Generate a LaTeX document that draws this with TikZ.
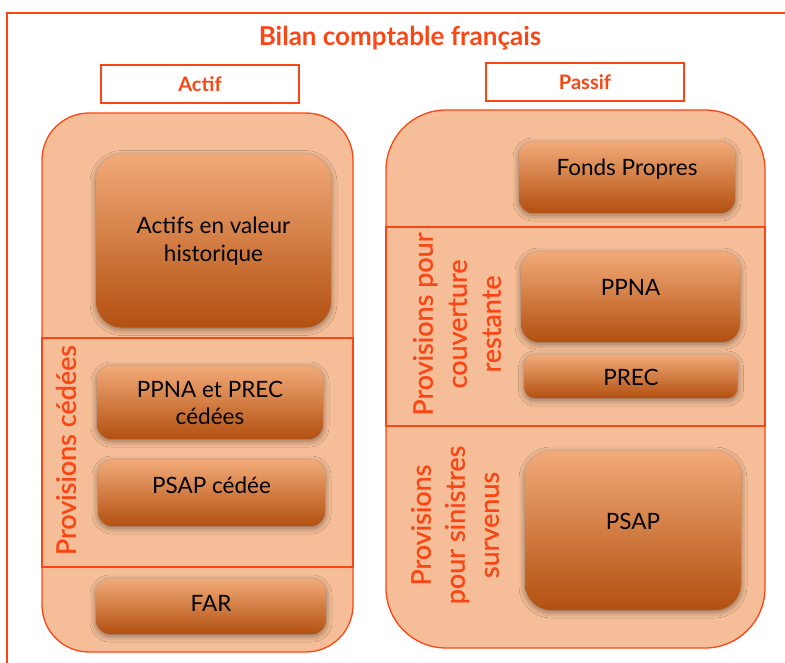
\documentclass[tikz,border=0pt]{standalone}
\usepackage{fontspec}
\setmainfont{Lato}
\usetikzlibrary{shadows.blur}

\definecolor{accent}{RGB}{250,70,20}
\definecolor{peach}{RGB}{245,190,152}
\definecolor{boxtop}{RGB}{242,170,120}
\definecolor{boxmid}{RGB}{238,136,60}
\definecolor{boxbot}{RGB}{178,80,16}

\tikzset{
  panel/.style={draw=accent, line width=1.3pt, fill=peach, inner sep=0pt},
  band/.style={draw=accent, line width=1.1pt, inner sep=0pt},
  cell/.style={rounded corners=#1, inner sep=0pt,
    top color=boxtop, middle color=boxmid, bottom color=boxbot,
    blur shadow={shadow xshift=0pt, shadow yshift=-2pt, shadow blur radius=6pt, shadow opacity=45}},
  cell/.default=18pt,
  txt/.style={font=\fontsize{22.5}{27.5}\selectfont, text=black, align=center, inner sep=0pt},
  lbl/.style={txt, text height=16pt, text depth=0pt},
  head/.style={draw=accent, line width=1.3pt, fill=white, inner sep=0pt,
    minimum width=198pt, minimum height=38pt, text=accent,
    font=\bfseries\fontsize{20}{22}\selectfont},
  side/.style={rotate=90, text=accent, align=center, inner sep=0pt,
    font=\fontsize{27}{34}\selectfont\addfontfeature{FakeBold=0.8}}
}

\begin{document}
\begin{tikzpicture}[x=1pt,y=-1pt]
\useasboundingbox (0,0) rectangle (785,663);

% open frame
\draw[accent, line width=1.3pt] (7,663) -- (7,13) -- (785,13);

% title and column headings
\node[text=accent, font=\bfseries\fontsize{26}{30}\selectfont] (title) at (400,38) {Bilan comptable français};
\node[head] (hactif) at (200,84) {Actif};
\node[head] (hpassif) at (585,82) {Passif};

% asset panel
\node[panel, rounded corners=47pt, minimum width=311pt, minimum height=539pt] (actif) at (197.5,382.5) {};
\node[band, minimum width=311pt, minimum height=229pt] (bcedees) at (197.5,452.5) {};

% liability panel
\node[panel, rounded corners=60pt, minimum width=379pt, minimum height=538pt] (passif) at (575.5,379) {};
\node[band, minimum width=379pt, minimum height=199pt] (bcouv) at (575.5,326.5) {};

% asset boxes
\node[cell=26pt, minimum width=235pt, minimum height=173pt] (avh) at (213.5,241) {};
\node[cell=14pt, minimum width=226pt, minimum height=73pt] (ppnac) at (210,402.5) {};
\node[cell=14pt, minimum width=227pt, minimum height=66pt] (psapc) at (211.5,493) {};
\node[cell=14pt, minimum width=230pt, minimum height=55pt] (far) at (211,606.5) {};

\node[txt] (tavh) at (avh.center) {Actifs en valeur\\historique};
\node[txt] (tppnac) at (210,403) {PPNA et PREC\\cédées};
\node[lbl] (tpsapc) at (211.5,485) {PSAP cédée};
\node[lbl] (tfar) at (211,603.5) {FAR};

% liability boxes
\node[cell=14pt, minimum width=216pt, minimum height=71pt] (fp) at (627,177.5) {};
\node[cell=18pt, minimum width=219pt, minimum height=90pt] (ppna) at (630.5,297) {};
\node[cell=10pt, minimum width=213pt, minimum height=43pt] (prec) at (631,376.5) {};
\node[cell=26pt, minimum width=216pt, minimum height=159pt] (psap) at (633,530.5) {};

\node[lbl] (tfp) at (627,168) {Fonds Propres};
\node[lbl] (tppna) at (630.5,288) {PPNA};
\node[lbl] (tprec) at (631,377) {PREC};
\node[lbl] (tpsap) at (633,521) {PSAP};

% rotated section labels
\node[side] (lcedees) at (66,450) {Provisions cédées};
\node[side] (lcouv) at (457,324) {Provisions pour\\couverture\\restante};
\node[side] (lsin) at (455,525) {Provisions\\pour sinistres\\survenus};
\end{tikzpicture}
\end{document}
